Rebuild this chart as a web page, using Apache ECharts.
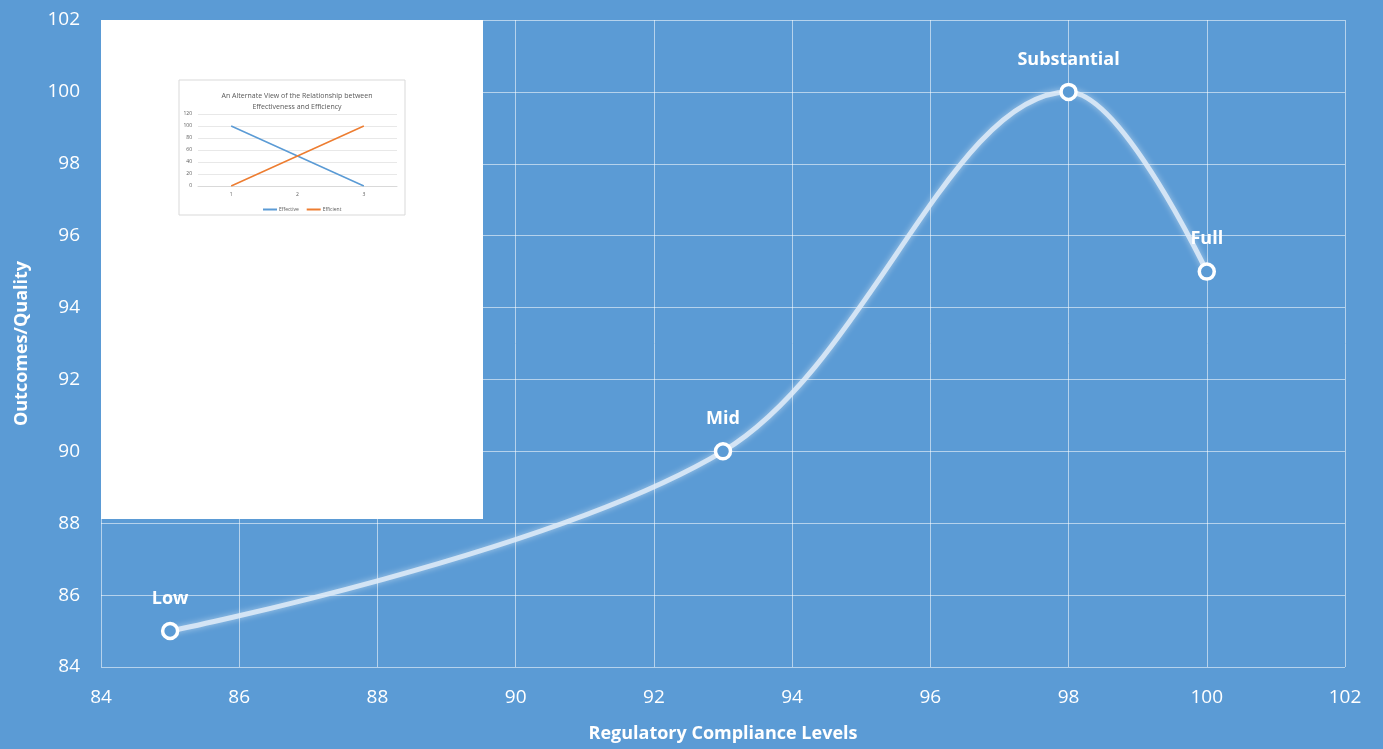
<!DOCTYPE html>
<html>
<head>
<meta charset="utf-8">
<script src="https://cdn.jsdelivr.net/npm/echarts@6/dist/echarts.min.js"></script>
<style>
  html, body { margin: 0; padding: 0; background: #5b9bd5; }
  #chart { width: 1383px; height: 749px; }
</style>
</head>
<body>
<div id="chart"></div>
<script>
// Main curve: compliance level vs outcome
const complianceLevels = [85, 93, 98, 100];
const outcomeScores = [85, 90, 100, 95];
const pointNames = ['Low', 'Mid', 'Substantial', 'Full'];

// Inset chart: effectiveness vs efficiency
const insetCategories = ['1', '2', '3'];
const effectiveValues = [100, 50, 0];
const efficientValues = [0, 50, 100];
const insetTitle = 'An Alternate View of the Relationship between\nEffectiveness and Efficiency';

const chart = echarts.init(document.getElementById('chart'));
const white = '#ffffff';
const gridLine = 'rgba(255,255,255,0.55)';
const font = '"Open Sans", "DejaVu Sans", sans-serif';

const mainData = complianceLevels.map((x, i) => ({ value: [x, outcomeScores[i]], name: pointNames[i] }));

chart.setOption({
  backgroundColor: '#5b9bd5',
  textStyle: { fontFamily: font },
  graphic: [
    { type: 'rect', z: 5, shape: { x: 101, y: 20, width: 382, height: 499 }, style: { fill: '#ffffff' } },
    { type: 'rect', z: 6, shape: { x: 179, y: 80, width: 226, height: 135 }, style: { fill: '#ffffff', stroke: '#d9d9d9', lineWidth: 1 } }
  ],
  title: {
    text: insetTitle, left: 292, top: 85, textAlign: 'center', z: 10,
    textStyle: { color: '#595959', fontSize: 7, fontWeight: 'normal', lineHeight: 11, fontFamily: font }
  },
  legend: {
    data: ['Effective', 'Efficient'], top: 202, left: 258, z: 10,
    itemWidth: 14, itemHeight: 2, itemGap: 8, icon: 'rect',
    textStyle: { color: '#595959', fontSize: 5, padding: [0, 0, 0, -3] }
  },
  grid: [
    { left: 101, right: 38, top: 20, bottom: 82 },
    { left: 198, right: 986, top: 114, bottom: 563, z: 10 }
  ],
  xAxis: [
    {
      type: 'value', gridIndex: 0, min: 84, max: 102, interval: 2,
      axisLine: { show: false }, axisTick: { show: false },
      splitLine: { show: true, lineStyle: { color: gridLine, width: 1 } },
      axisLabel: { color: white, fontSize: 19, margin: 21, fontFamily: font },
      name: 'Regulatory Compliance Levels', nameLocation: 'middle', nameGap: 58,
      nameTextStyle: { color: white, fontSize: 18, fontWeight: 'bold', fontFamily: font }
    },
    {
      type: 'category', gridIndex: 1, data: insetCategories, boundaryGap: true,
      axisLine: { show: true, lineStyle: { color: '#d9d9d9' } }, axisTick: { show: false },
      axisLabel: { color: '#595959', fontSize: 5, margin: 6 }, z: 10
    }
  ],
  yAxis: [
    {
      type: 'value', gridIndex: 0, min: 84, max: 102, interval: 2,
      axisLine: { show: false }, axisTick: { show: false },
      splitLine: { show: true, lineStyle: { color: gridLine, width: 1 } },
      axisLabel: { color: white, fontSize: 19, margin: 21, fontFamily: font },
      name: 'Outcomes/Quality', nameLocation: 'middle', nameGap: 70,
      nameTextStyle: { color: white, fontSize: 18, fontWeight: 'bold', fontFamily: font }
    },
    {
      type: 'value', gridIndex: 1, min: 0, max: 120, interval: 20,
      axisLine: { show: false }, axisTick: { show: false },
      splitLine: { show: true, lineStyle: { color: '#d9d9d9', width: 0.6 } },
      axisLabel: { color: '#595959', fontSize: 5, margin: 6 }, z: 10
    }
  ],
  series: [
    {
      type: 'line', xAxisIndex: 0, yAxisIndex: 0, data: mainData, smooth: 0.35, z: 3,
      symbol: 'circle', symbolSize: 15,
      lineStyle: { color: 'rgba(225,236,248,0.85)', width: 5, shadowColor: 'rgba(255,255,255,0.6)', shadowBlur: 6 },
      itemStyle: { color: '#5b9bd5', borderColor: white, borderWidth: 3.5 },
      label: {
        show: true, position: 'top', distance: 14, formatter: p => p.data.name,
        color: white, fontSize: 18, fontWeight: 'bold', fontFamily: font
      }
    },
    {
      name: 'Effective', type: 'line', xAxisIndex: 1, yAxisIndex: 1, data: effectiveValues, z: 11,
      symbol: 'none', lineStyle: { color: '#5b9bd5', width: 1.5 }, itemStyle: { color: '#5b9bd5' }
    },
    {
      name: 'Efficient', type: 'line', xAxisIndex: 1, yAxisIndex: 1, data: efficientValues, z: 11,
      symbol: 'none', lineStyle: { color: '#ed7d31', width: 1.5 }, itemStyle: { color: '#ed7d31' }
    }
  ]
});
</script>
</body>
</html>
